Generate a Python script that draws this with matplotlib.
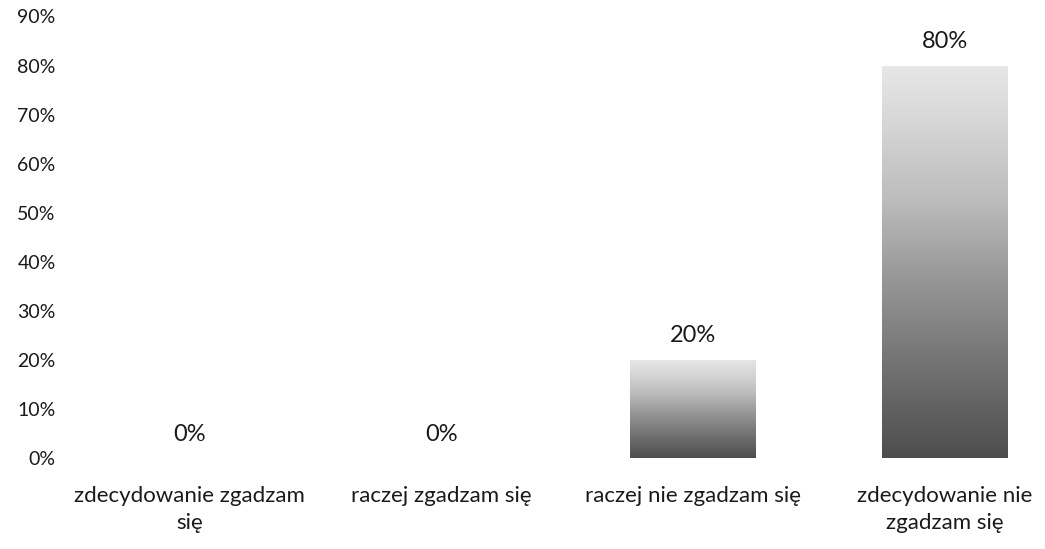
import numpy as np
import matplotlib.pyplot as plt

plt.rcParams['font.family'] = ['Lato', 'DejaVu Sans']

# data
categories = ['zdecydowanie zgadzam\nsię', 'raczej zgadzam się',
              'raczej nie zgadzam się', 'zdecydowanie nie\nzgadzam się']
values = [0, 0, 20, 80]
value_labels = ['0%', '0%', '20%', '80%']
yticks = [0, 10, 20, 30, 40, 50, 60, 70, 80, 90]

fig = plt.figure(figsize=(10.45, 5.49), dpi=100)
ax = fig.add_axes([0.0612, 0.165, 0.9396, 0.805])

x = np.arange(len(categories))
bars = ax.bar(x, values, width=0.5, facecolor='none', edgecolor='none')

# grey gradient fill, light at top, dark at bottom
grad = np.linspace(0, 1, 256).reshape(-1, 1)
for b in bars:
    h = b.get_height()
    if h <= 0:
        continue
    x0 = b.get_x()
    w = b.get_width()
    im = ax.imshow(grad, cmap='Greys', vmin=-0.3, vmax=1.4, aspect='auto',
                   extent=(x0, x0 + w, 0, h), origin='upper', zorder=2)
    im.set_clip_path(b)

for xi, v, lab in zip(x, values, value_labels):
    ax.annotate(lab, (xi, v), xytext=(0, 10), textcoords='offset points',
                ha='center', va='bottom', fontsize=17, color='#1a1a1a')

ax.set_xlim(-0.5, 3.4)
ax.set_ylim(0, 90)
ax.set_yticks(yticks)
ax.set_yticklabels([f'{t}%' for t in yticks], fontsize=14, color='#1a1a1a')
ax.set_xticks(x)
ax.set_xticklabels(categories, fontsize=16, color='#1a1a1a', linespacing=1.4)
ax.tick_params(axis='both', length=0)
ax.tick_params(axis='x', pad=20)
ax.tick_params(axis='y', pad=6)
for s in ax.spines.values():
    s.set_visible(False)

fig.savefig('out.png', dpi=100)
